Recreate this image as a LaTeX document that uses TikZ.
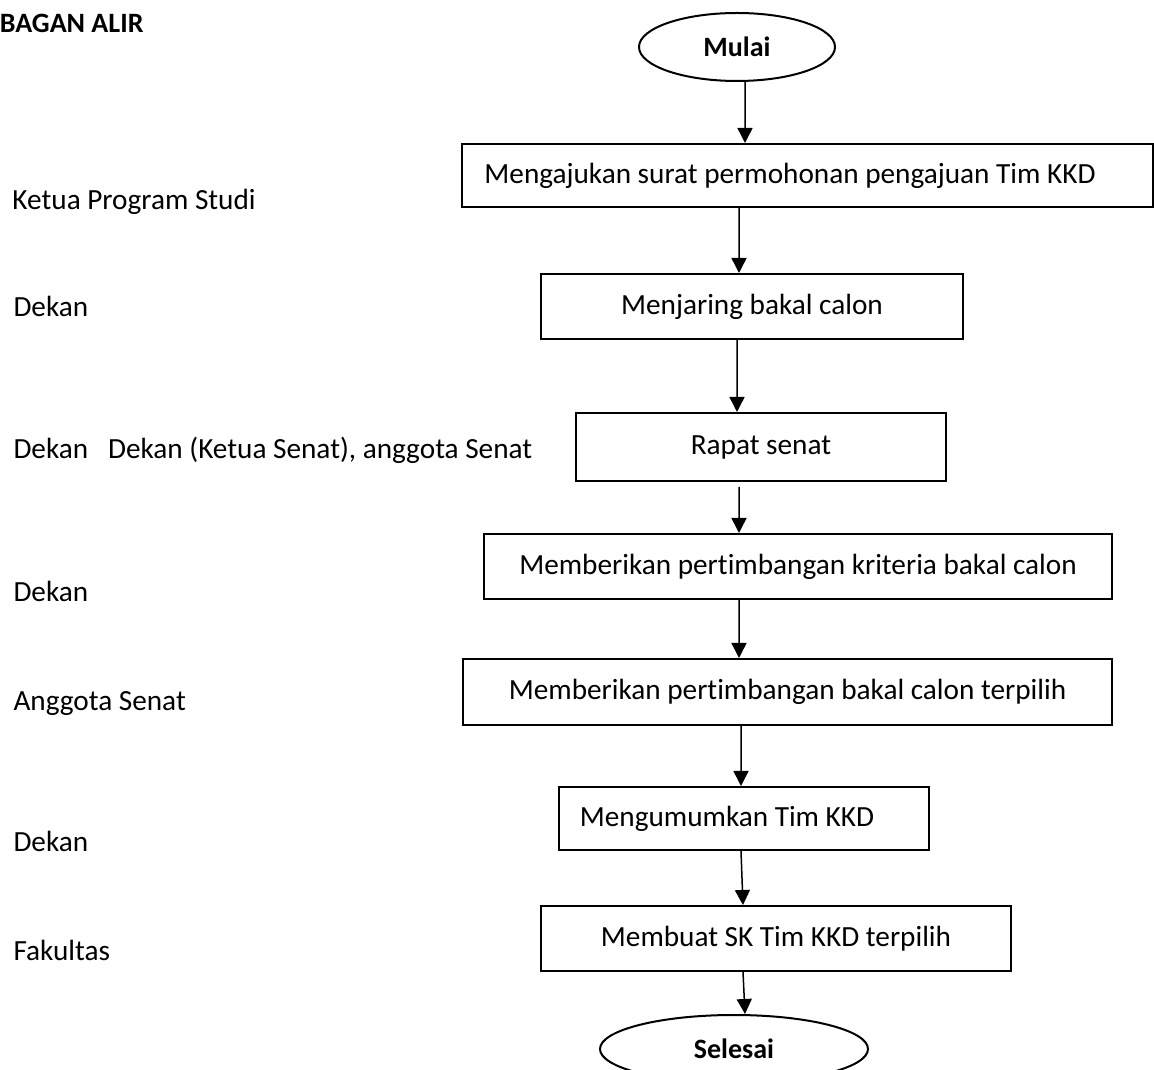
\documentclass[tikz,border=0pt]{standalone}
\usepackage{fontspec}
\setmainfont{Carlito}[Ligatures=CommonOff]
\usepackage{tikz}
\usetikzlibrary{shapes,arrows.meta,positioning,calc}

\begin{document}
\begin{tikzpicture}[
        x=0.4pt, y=-0.4pt,
        every node/.style={font=\fontsize{11.7}{14}\selectfont, inner sep=0pt},
        box/.style={rectangle, draw, line width=0.8pt, minimum height=26pt},
        term/.style={ellipse, draw, line width=0.8pt, minimum width=78.4pt, minimum height=27.2pt, font=\fontsize{11.2}{13}\selectfont\bfseries},
        actor/.style={anchor=base west},
        arr/.style={-{Triangle[length=6pt,width=6pt]}, line width=0.6pt}
    ]
        \useasboundingbox (0,0) rectangle (1154,1070);

        % Title
        \node[anchor=east, font=\fontsize{11.2}{13}\selectfont\bfseries] (judul) at (144,23) {BAGAN ALIR};

        % Left column: who does it
        \node[actor] (kaprodi) at (12,210) {Ketua Program Studi};
        \node[actor] (dekan1) at (13,317) {Dekan};
        \node[actor] (senat) at (13,459) {Dekan~~~Dekan (Ketua Senat), anggota Senat};
        \node[actor] (dekan2) at (13,602) {Dekan};
        \node[actor] (anggota) at (13,711) {Anggota Senat};
        \node[actor] (dekan3) at (13,852) {Dekan};
        \node[actor] (fakultas) at (13,961) {Fakultas};

        % Start and end
        \node[term] (mulai) at (737,47) {Mulai};
        \node[term, minimum width=107.2pt] (selesai) at (734,1049) {Selesai};

        % Process steps
        \node[box, minimum width=276.4pt, minimum height=25.2pt] (surat) at (807.5,175.5) {Mengajukan surat permohonan pengajuan Tim KKD\hspace{14pt}\mbox{}};
        \node[box, minimum width=168.8pt] (jaring) at (752,306.5) {Menjaring bakal calon};
        \node[box, minimum width=148pt, minimum height=27.2pt] (rapat) at (761,447) {Rapat senat};
        \node[box, minimum width=251.2pt] (kriteria) at (798,566.5) {Memberikan pertimbangan kriteria bakal calon};
        \node[box, minimum width=259.6pt, minimum height=26.4pt] (terpilih) at (787.5,692) {Memberikan pertimbangan bakal calon terpilih};
        \node[box, minimum width=148pt, minimum height=25.2pt] (umum) at (744,818.5) {Mengumumkan Tim KKD\hspace{13.6pt}\mbox{}};
        \node[box, minimum width=188pt] (sk) at (776,938.5) {Membuat SK Tim KKD terpilih};

        % Arrows
        \draw[arr] ([xshift=3.2pt]mulai.south) -- ([xshift=-25pt]surat.north);
        \draw[arr] ([xshift=-27.4pt]surat.south) -- ([xshift=-5.2pt]jaring.north);
        \draw[arr] ([xshift=-6pt]jaring.south) -- ([xshift=-9.6pt]rapat.north);
        \draw[arr] ([xshift=-8.8pt, yshift=-2pt]rapat.south) -- ([xshift=-23.6pt]kriteria.north);
        \draw[arr] ([xshift=-23.6pt]kriteria.south) -- ([xshift=-19.4pt]terpilih.north);
        \draw[arr] ([xshift=-18.6pt]terpilih.south) -- ([xshift=-1.2pt]umum.north);
        \draw[arr] ([xshift=-1.2pt]umum.south) -- ([xshift=-13.2pt]sk.north);
        \draw[arr] ([xshift=-13.2pt]sk.south) -- ([xshift=4.4pt]selesai.north);
    \end{tikzpicture}
\end{document}
